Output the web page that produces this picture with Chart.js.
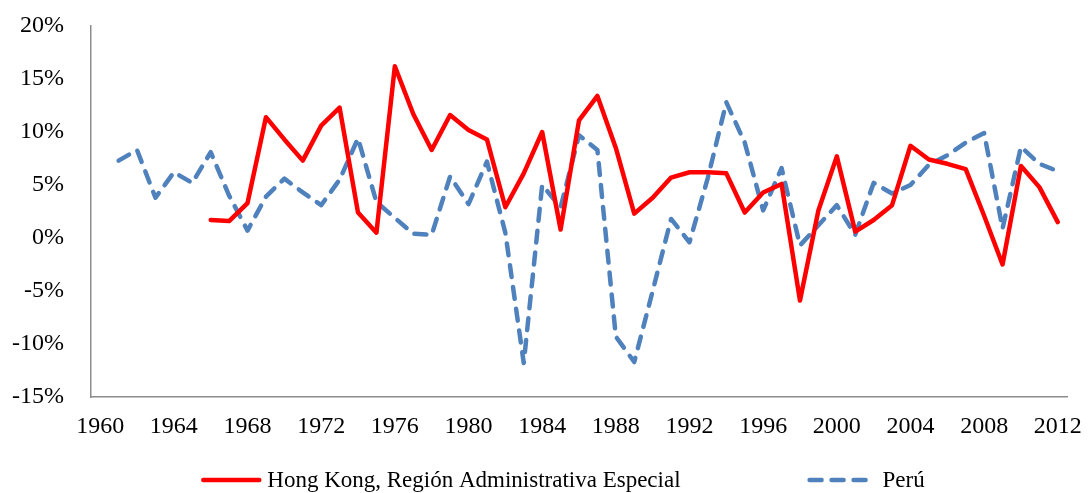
<!DOCTYPE html>
<html>
<head>
<meta charset="utf-8">
<script src="https://cdn.jsdelivr.net/npm/chart.js@4"></script>
<style>
  html, body { margin: 0; padding: 0; background: #fff; }
  #wrap { width: 1088px; height: 493px; }
</style>
</head>
<body>
<div id="wrap"><canvas id="grafico"></canvas></div>
<script>
// datos (crecimiento anual del PIB, %)
const anos = [];
for (let a = 1960; a <= 2012; a++) anos.push(String(a));

const hongKong = [
  null, null, null, null, null, null,
  1.7, 1.6, 3.3, 11.4, 9.3, 7.3, 10.6, 12.3, 2.4, 0.5,
  16.2, 11.7, 8.3, 11.6, 10.2, 9.3, 2.9, 6.1, 10.0, 0.8,
  11.1, 13.4, 8.5, 2.3, 3.8, 5.7, 6.2, 6.2, 6.1, 2.4,
  4.3, 5.1, -5.9, 2.6, 7.7, 0.6, 1.7, 3.1, 8.7, 7.4,
  7.0, 6.5, 2.1, -2.5, 6.8, 4.8, 1.5
];

const peru = [
  null, 7.3, 8.3, 3.8, 6.2, 5.2, 8.1, 4.0, 0.7, 3.9,
  5.6, 4.3, 3.1, 5.5, 9.4, 3.4, 1.9, 0.4, 0.3, 5.8,
  3.2, 7.2, 0.5, -11.8, 5.0, 2.9, 9.7, 8.3, -9.3, -11.7,
  -5.0, 1.8, -0.4, 5.7, 12.8, 9.0, 2.6, 6.6, -0.7, 1.2,
  3.1, 0.3, 5.2, 4.2, 5.0, 6.9, 7.8, 9.0, 9.9, 0.9,
  8.6, 7.0, 6.3
];

const nombres = ['Hong Kong, Región Administrativa Especial', 'Perú'];
const ticksY = [-15, -10, -5, 0, 5, 10, 15, 20];

const fuente = "'Liberation Serif', 'Times New Roman', serif";

// leyenda propia (el espaciado de Excel no sale con la leyenda estándar)
const leyenda = {
  id: 'leyenda',
  afterDraw(chart) {
    const ctx = chart.ctx;
    const y = 480;
    const largo = 60, hueco = 127;
    const sep = [6, 15];
    ctx.save();
    ctx.font = '23px ' + fuente;
    ctx.textBaseline = 'middle';
    ctx.fillStyle = '#000';
    let total = 0;
    chart.data.datasets.forEach((ds, i) => {
      total += largo + sep[i] + ctx.measureText(ds.label).width;
      if (i > 0) total += hueco;
    });
    let x = 563 - total / 2;
    chart.data.datasets.forEach((ds, i) => {
      ctx.beginPath();
      ctx.strokeStyle = ds.borderColor;
      ctx.lineWidth = ds.borderWidth;
      ctx.lineCap = 'round';
      ctx.setLineDash(ds.borderDash || []);
      ctx.moveTo(x + 2, y);
      ctx.lineTo(x + largo - 2, y);
      ctx.stroke();
      ctx.setLineDash([]);
      x += largo + sep[i];
      ctx.fillText(ds.label, x, y + 1);
      x += ctx.measureText(ds.label).width + hueco;
    });
    ctx.restore();
  }
};

new Chart(document.getElementById('grafico'), {
  type: 'line',
  data: {
    labels: anos,
    datasets: [
      { label: nombres[0], data: hongKong, borderColor: '#FF0000', borderWidth: 4.5,
        pointRadius: 0, tension: 0, fill: false, borderCapStyle: 'round', borderJoinStyle: 'round' },
      { label: nombres[1], data: peru, borderColor: '#4F81BD', borderWidth: 4.5, borderDash: [12, 10],
        pointRadius: 0, tension: 0, fill: false, borderCapStyle: 'round', borderJoinStyle: 'round' }
    ]
  },
  options: {
    responsive: true,
    maintainAspectRatio: false,
    animation: false,
    layout: { autoPadding: false, padding: { top: 26, right: 21, bottom: 50, left: 0 } },
    plugins: {
      legend: { display: false },
      tooltip: { enabled: false }
    },
    scales: {
      x: {
        offset: true,
        grid: { display: false, offset: true },
        border: { display: true, color: '#8c8c8c', width: 1.5 },
        ticks: {
          autoSkip: false, maxRotation: 0, color: '#000', padding: 7,
          font: { family: fuente, size: 24 },
          callback: function(v, i) { return (i % 4 === 0) ? anos[i] : ''; }
        },
        afterFit: s => { s.height = 46; s.paddingLeft = 0; s.paddingRight = 0; }
      },
      y: {
        min: -15, max: 20,
        afterBuildTicks: s => { s.ticks = ticksY.map(v => ({ value: v })); },
        grid: { display: false },
        border: { display: true, color: '#8c8c8c', width: 1.5 },
        ticks: {
          color: '#000', padding: 19,
          font: { family: fuente, size: 24 },
          callback: v => v + '%'
        },
        afterFit: s => { s.width = 91; s.paddingTop = 0; s.paddingBottom = 0; }
      }
    }
  },
  plugins: [leyenda]
});
</script>
</body>
</html>
